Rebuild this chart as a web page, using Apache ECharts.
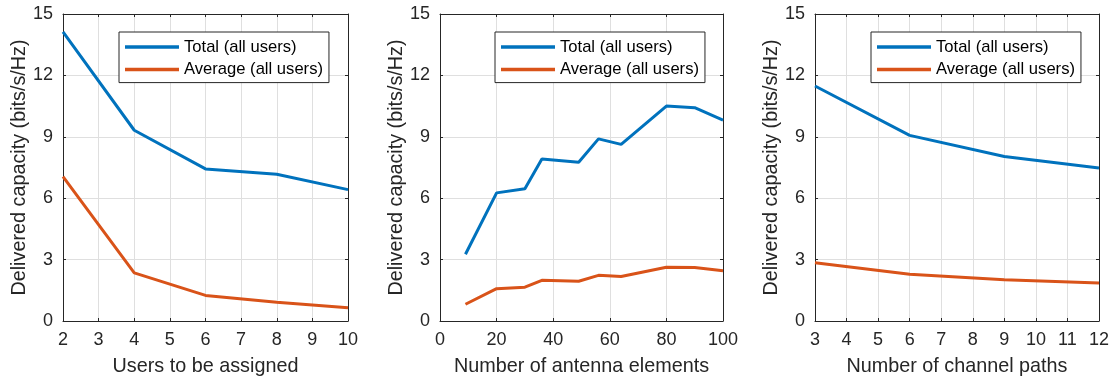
<!DOCTYPE html>
<html>
<head>
<meta charset="utf-8">
<script src="https://cdn.jsdelivr.net/npm/echarts@6/dist/echarts.min.js"></script>
<style>
html,body{margin:0;padding:0;background:#fff;}
#c{width:1116px;height:381px;}
</style>
</head>
<body>
<div id="c"></div>
<script>
// Panel 1: users to be assigned
const usersX = [2, 4, 6, 8, 10];
const usersTotal = [14.13, 9.32, 7.43, 7.17, 6.42];
const usersAvg = [7.05, 2.35, 1.25, 0.92, 0.65];

// Panel 2: number of antenna elements
const antX = [9, 20, 30, 36, 49, 56, 64, 80, 90, 100];
const antTotal = [3.26, 6.26, 6.46, 7.92, 7.76, 8.9, 8.63, 10.5, 10.42, 9.82];
const antAvg = [0.82, 1.58, 1.65, 1.99, 1.94, 2.23, 2.17, 2.63, 2.61, 2.46];

// Panel 3: number of channel paths
const pathX = [3, 6, 9, 12];
const pathTotal = [11.48, 9.07, 8.04, 7.48];
const pathAvg = [2.85, 2.28, 2.02, 1.86];

const xTitles = ['Users to be assigned', 'Number of antenna elements', 'Number of channel paths'];
const yTitle = 'Delivered capacity (bits/s/Hz)';
const seriesNames = ['Total (all users)', 'Average (all users)'];

const FONT = '"Liberation Sans", Arial, Helvetica, sans-serif';
const INK = '#262626';
const GRIDC = '#dfdfdf';
const BLUE = '#0072BD';
const ORANGE = '#D95319';

const panels = [
  {x: usersX, t: usersTotal, a: usersAvg, xmin: 2, xmax: 10, xint: 1, left: 63, width: 285, legLeft: 119},
  {x: antX, t: antTotal, a: antAvg, xmin: 0, xmax: 100, xint: 20, left: 440, width: 283, legLeft: 495},
  {x: pathX, t: pathTotal, a: pathAvg, xmin: 3, xmax: 12, xint: 1, left: 815, width: 284, legLeft: 871}
];

const grid = [], xAxis = [], yAxis = [], series = [], legend = [];
const zip = (xs, ys) => xs.map((v, i) => [v, ys[i]]);

panels.forEach((p, i) => {
  grid.push({left: p.left, top: 14, width: p.width, height: 307, containLabel: false, outerBoundsMode: 'none'});
  xAxis.push({
    type: 'value', gridIndex: i, min: p.xmin, max: p.xmax, interval: p.xint,
    position: 'bottom',
    name: xTitles[i], nameLocation: 'middle', nameGap: 36,
    nameTextStyle: {fontFamily: FONT, fontSize: 19.8, color: INK},
    axisLine: {show: true, onZero: false, lineStyle: {color: INK, width: 1}},
    axisTick: {show: true, inside: true, length: 3, lineStyle: {color: INK}},
    axisLabel: {fontFamily: FONT, fontSize: 18, color: INK, margin: 10},
    splitLine: {show: true, lineStyle: {color: GRIDC, width: 1}}
  });
  xAxis.push({
    type: 'value', gridIndex: i, min: p.xmin, max: p.xmax, interval: p.xint,
    position: 'top',
    axisLine: {show: true, onZero: false, lineStyle: {color: INK, width: 1}},
    axisTick: {show: true, inside: true, length: 3, lineStyle: {color: INK}},
    axisLabel: {show: false},
    splitLine: {show: false}
  });
  yAxis.push({
    type: 'value', gridIndex: i, min: 0, max: 15, interval: 3,
    position: 'left',
    name: yTitle, nameLocation: 'middle', nameGap: 33, nameRotate: 90,
    nameTextStyle: {fontFamily: FONT, fontSize: 19.8, color: INK},
    axisLine: {show: true, onZero: false, lineStyle: {color: INK, width: 1}},
    axisTick: {show: true, inside: true, length: 3, lineStyle: {color: INK}},
    axisLabel: {fontFamily: FONT, fontSize: 18, color: INK, margin: 10},
    splitLine: {show: true, lineStyle: {color: GRIDC, width: 1}}
  });
  yAxis.push({
    type: 'value', gridIndex: i, min: 0, max: 15, interval: 3,
    position: 'right',
    axisLine: {show: true, onZero: false, lineStyle: {color: INK, width: 1}},
    axisTick: {show: true, inside: true, length: 3, lineStyle: {color: INK}},
    axisLabel: {show: false},
    splitLine: {show: false}
  });
  series.push({
    name: seriesNames[0], type: 'line', xAxisIndex: 2 * i, yAxisIndex: 2 * i,
    data: zip(p.x, p.t), symbol: 'none', smooth: false,
    lineStyle: {color: BLUE, width: 3}, itemStyle: {color: BLUE}, z: 3
  });
  series.push({
    name: seriesNames[1], type: 'line', xAxisIndex: 2 * i, yAxisIndex: 2 * i,
    data: zip(p.x, p.a), symbol: 'none', smooth: false,
    lineStyle: {color: ORANGE, width: 3}, itemStyle: {color: ORANGE}, z: 3
  });
  legend.push({
    data: seriesNames, orient: 'vertical', left: p.legLeft, top: 32,
    icon: 'rect', itemWidth: 54, itemHeight: 3.5, itemGap: 4.6,
    padding: [6, 6, 4, 6],
    backgroundColor: '#fff', borderColor: INK, borderWidth: 1, borderRadius: 0,
    selectedMode: false,
    textStyle: {fontFamily: FONT, fontSize: 16.6, color: '#000', lineHeight: 18}
  });
});

const chart = echarts.init(document.getElementById('c'), null, {renderer: 'canvas'});
chart.setOption({
  animation: false,
  backgroundColor: '#fff',
  grid, xAxis, yAxis, series, legend
});
</script>
</body>
</html>
